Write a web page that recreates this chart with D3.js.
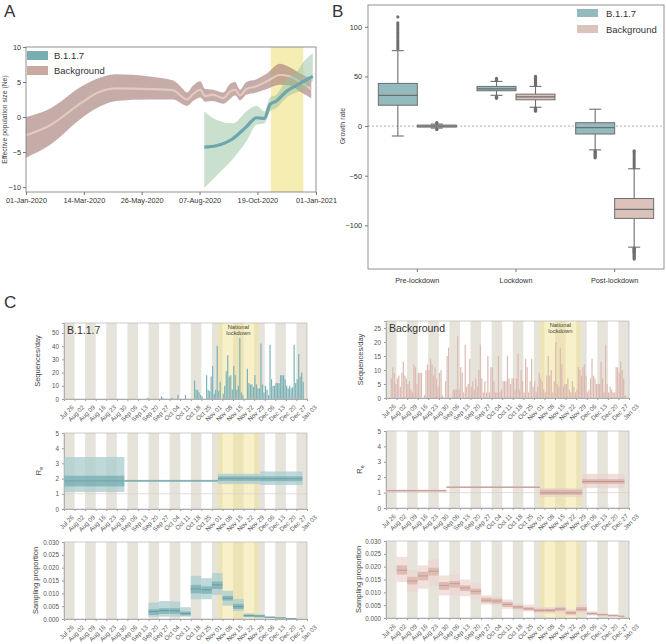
<!DOCTYPE html>
<html><head><meta charset="utf-8">
<script src="https://cdn.jsdelivr.net/npm/d3@7"></script>
<style>body{margin:0;background:#fff} svg{font-family:"Liberation Sans",Arial,sans-serif}</style>
</head><body><svg id="c" width="666" height="644"></svg>
<script>
// ---------------- Panel A data ----------------
const bgDates = ["2020-01-01","2020-01-31","2020-03-13","2020-04-03","2020-04-24","2020-06-05","2020-07-05","2020-07-17","2020-07-22","2020-07-30","2020-08-08","2020-08-14","2020-08-24","2020-09-06","2020-09-14","2020-09-21","2020-09-27","2020-10-05","2020-10-18","2020-10-31","2020-11-16","2020-11-29","2020-12-12","2020-12-26"];
const bgMean = [-2.6,-1.2,2.2,3.6,4.1,4.0,3.8,2.8,2.5,3.3,3.9,3.0,3.2,2.7,3.6,3.9,3.1,4.0,4.4,5.1,6.0,5.8,5.0,4.0];
const bgLow  = [-5.8,-4.0,0.0,1.5,2.3,2.5,2.5,1.8,1.6,2.3,2.8,2.2,2.3,1.9,2.5,3.1,2.4,3.2,3.5,4.0,4.6,4.5,3.6,2.7];
const bgHigh = [0.0,1.2,4.5,5.6,6.1,5.8,5.2,4.0,3.5,4.5,5.1,4.0,3.9,3.5,4.7,5.0,3.9,5.0,5.4,6.2,7.6,7.1,6.2,5.5];
const b117Dates = ["2020-08-13","2020-08-28","2020-09-18","2020-10-05","2020-10-18","2020-10-28","2020-11-04","2020-11-12","2020-11-25","2020-12-07","2020-12-18","2020-12-28"];
const b117Mean = [-4.3,-4.1,-3.1,-1.4,-0.1,-0.2,1.8,2.3,3.7,4.5,5.2,5.8];
const b117Low  = [-10.1,-8.4,-6.0,-3.5,-1.1,-0.9,0.8,1.3,2.8,3.5,4.0,5.2];
const b117High = [0.8,-0.4,-0.9,0.8,1.6,0.8,2.8,3.2,5.4,6.4,8.1,9.1];
const lockA = ["2020-11-05","2020-12-16"];
const aXTicks = ["2020-01-01","2020-03-14","2020-05-26","2020-08-07","2020-10-19","2021-01-01"];
const aYTicks = [-10,-5,0,5,10];

// ---------------- Panel B data ----------------
const periods = ["Pre-lockdown","Lockdown","Post-lockdown"];
const b117Q1 = [21,35.6,-8], b117Med = [31,37.5,-1.5], b117Q3 = [43,40,3.4], b117WLo = [-10,31,-24], b117WHi = [76,45,17];
const bgQ1 = [-1,26.5,-93], bgMed = [0,29.5,-84], bgQ3 = [1,32.2,-73], bgWLo = [-2,19,-122], bgWHi = [2,40,-43];
const b117Out = [[78,80,82,84,86,88,90,92,94,96,98,100,102,104,110],[28,29,30,46,47,48],[-25,-26,-27,-28,-29,-30,-31,-32]];
const bgOut = [[-3.5,-3,3,3.5],[15,16,17,18,41,42,43,44,45,46,47,48,49,50],[-25,-26,-28,-30,-32,-34,-36,-38,-40,-42,-123,-124,-125,-126,-127,-128,-129,-130,-131,-132,-133,-134]];
const bYTicks = [-100,-50,0,50,100];

// ---------------- Panel C data ----------------
const cTickLabels = ["Jul 26","Aug 02","Aug 09","Aug 16","Aug 23","Aug 30","Sep 06","Sep 13","Sep 20","Sep 27","Oct 04","Oct 11","Oct 18","Oct 25","Nov 01","Nov 08","Nov 15","Nov 22","Nov 29","Dec 06","Dec 13","Dec 20","Dec 27","Jan 03"];
const cTickDates = ["2020-07-26","2020-08-02","2020-08-09","2020-08-16","2020-08-23","2020-08-30","2020-09-06","2020-09-13","2020-09-20","2020-09-27","2020-10-04","2020-10-11","2020-10-18","2020-10-25","2020-11-01","2020-11-08","2020-11-15","2020-11-22","2020-11-29","2020-12-06","2020-12-13","2020-12-20","2020-12-27","2021-01-03"];
const lockC = ["2020-11-05","2020-12-02"];
const dailyStart = "2020-07-26";
// B.1.1.7 sequences/day from Jul 26
const b117Daily = [0,0,0,0,0,0,0,0,0,0, 0,0,0,0,0,0,0,0,0,0, 0,0,0,0,0,0,0,0,0,0, 0,0,0,0,0,0,0,0,0,0, 0,0,0,0,0,0,0,0,0,0, 0,0,0,0,0,1,0,0,0,0,
 0,0,0,0,2,1,0,0,0,0, 0,1,0,0,0,3,0,0,0,0, 3,0,0,0,0,0,14,7,7,5, 3,2,0,0,18,7,6,17,25,4, 7,40,6,13,0,4,10,21,33,17,
 18,7,25,18,7,10,46,5,3,0, 0,23,12,11,11,9,18,11,8,8, 42,11,5,10,7,3,41,15,10,10, 12,12,12,18,18,18,15,10,8,10, 8,9,41,12,15,34,17,20,13];
// Background sequences/day from Jul 26
const bgDaily = [0,0,0,7,11,9,5,7,8,4,9,13,8,7,5,6,3,2,12,11,5,9,9,9,0,1,10,12,10,14,12,8,11,7,4,9,10,1,0,6,15,18,0,0,3,3,3,22,3,11,9,2,19,4,5,14,4,6,3,7,4,10,19,7,2,6,2,15,2,11,11,6,2,2,15,2,3,6,6,6,15,7,5,7,7,3,7,16,3,10,6,2,14,11,2,6,14,4,6,2,4,9,7,6,3,2,8,15,8,10,2,6,20,5,4,18,12,4,5,5,7,3,2,6,4,2,3,11,10,8,11,12,8,2,3,7,14,8,7,5,5,5,13,7,2,19,5,2,4,3,2,2,11,11,9,13,10,7,1];
// Re segments
const reStart = ["2020-07-26","2020-09-04","2020-11-05","2020-12-03"];
const reEnd   = ["2020-09-04","2020-11-05","2020-12-03","2020-12-31"];
const b117ReLo95 = [1.12,1.79,1.64,1.58], b117ReLo50 = [1.49,1.82,1.85,1.83], b117ReMed = [1.85,1.85,2.0,1.99], b117ReHi50 = [2.19,1.88,2.15,2.15], b117ReHi95 = [3.42,1.92,2.32,2.47];
const bgReLo95 = [1.06,1.30,0.71,1.29], bgReLo50 = [1.09,1.32,0.86,1.57], bgReMed = [1.12,1.35,0.98,1.72], bgReHi50 = [1.15,1.38,1.19,1.87], bgReHi95 = [1.2,1.41,1.29,2.22];
// Sampling proportion weekly segments
const b117SpStart = ["2020-09-20","2020-09-27","2020-10-04","2020-10-11","2020-10-18","2020-10-25","2020-11-01","2020-11-08","2020-11-15","2020-11-22","2020-11-29","2020-12-06","2020-12-13","2020-12-20"];
const b117SpEnd   = ["2020-09-27","2020-10-04","2020-10-11","2020-10-18","2020-10-25","2020-11-01","2020-11-08","2020-11-15","2020-11-22","2020-11-29","2020-12-06","2020-12-13","2020-12-20","2020-12-27"];
const b117SpHi95 = [0.0064,0.0070,0.0068,0.0046,0.0168,0.0159,0.0179,0.0110,0.0078,0.0022,0.0018,0.0010,0.0007,0.0004];
const b117SpHi50 = [0.0038,0.0042,0.0042,0.0029,0.0133,0.0127,0.0146,0.0090,0.0059,0.0017,0.0014,0.0008,0.0005,0.0003];
const b117SpMed  = [0.0029,0.0033,0.0032,0.0021,0.0117,0.0114,0.0133,0.0081,0.0048,0.0013,0.0012,0.0007,0.0004,0.0002];
const b117SpLo50 = [0.0016,0.0020,0.0020,0.0014,0.0100,0.0098,0.0117,0.0072,0.0039,0.0009,0.0008,0.0005,0.0003,0.0001];
const b117SpLo95 = [0.0009,0.0009,0.0009,0.0009,0.0077,0.0077,0.0094,0.0052,0.0031,0.0007,0.0005,0.0003,0.0001,0.0000];
const bgSpStart = ["2020-08-02","2020-08-09","2020-08-16","2020-08-23","2020-08-30","2020-09-06","2020-09-13","2020-09-20","2020-09-27","2020-10-04","2020-10-11","2020-10-18","2020-10-25","2020-11-01","2020-11-08","2020-11-15","2020-11-22","2020-11-29","2020-12-06","2020-12-13","2020-12-20","2020-12-27"];
const bgSpEnd   = ["2020-08-09","2020-08-16","2020-08-23","2020-08-30","2020-09-06","2020-09-13","2020-09-20","2020-09-27","2020-10-04","2020-10-11","2020-10-18","2020-10-25","2020-11-01","2020-11-08","2020-11-15","2020-11-22","2020-11-29","2020-12-06","2020-12-13","2020-12-20","2020-12-27","2020-12-31"];
const bgSpHi95 = [.0238,.0186,.0205,.0228,.0166,.0169,.0150,.0134,.0088,.0085,.0072,.0056,.0052,.0043,.0043,.0049,.0033,.0053,.0026,.0020,.0015,.0010];
const bgSpHi50 = [.0205,.0160,.0180,.0196,.0140,.0144,.0127,.0114,.0079,.0075,.0062,.0049,.0042,.0036,.0036,.0041,.0026,.0043,.0021,.0016,.0012,.0008];
const bgSpMed  = [.0186,.0144,.0164,.0182,.0127,.0134,.0117,.0104,.0069,.0066,.0053,.0043,.0036,.0030,.0030,.0035,.0020,.0034,.0017,.0013,.0009,.0007];
const bgSpLo50 = [.0169,.0131,.0147,.0166,.0110,.0118,.0105,.0092,.0060,.0056,.0043,.0036,.0030,.0023,.0024,.0028,.0014,.0026,.0013,.0010,.0007,.0005];
const bgSpLo95 = [.0140,.0101,.0114,.0127,.0088,.0088,.0085,.0075,.0052,.0049,.0036,.0030,.0026,.0017,.0017,.0020,.0009,.0017,.0010,.0007,.0004,.0003];

// ---------------- drawing ----------------
const P = d3.timeParse("%Y-%m-%d");
const svg = d3.select("#c");
const axisCol = "#777";

// panel letters
[["A",4,17],["B",332,17],["C",4,308]].forEach(([t,x,y]) =>
  svg.append("text").attr("x",x).attr("y",y).attr("font-size",17).attr("fill","#333").text(t));

// ===== Panel A =====
(function(){
  const L=26,R=316,T=47,B=192;
  const x = d3.scaleTime().domain([P("2020-01-01"),P("2021-01-01")]).range([L,R]);
  const y = d3.scaleLinear().domain([-10.7,10]).range([B,T]);
  const g = svg.append("g");
  g.append("rect").attr("x",x(P(lockA[0]))).attr("y",T).attr("width",x(P(lockA[1]))-x(P(lockA[0]))).attr("height",B-T).attr("fill","#f6edb3");
  const bg = bgDates.map((d,i)=>({d:P(d),m:bgMean[i],lo:bgLow[i],hi:bgHigh[i]}));
  const bb = b117Dates.map((d,i)=>({d:P(d),m:b117Mean[i],lo:b117Low[i],hi:b117High[i]}));
  const area = d3.area().x(d=>x(d.d)).y0(d=>y(d.lo)).y1(d=>y(d.hi)).curve(d3.curveMonotoneX);
  const line = d3.line().x(d=>x(d.d)).y(d=>y(d.m)).curve(d3.curveMonotoneX);
  g.append("path").attr("d",area(bg)).attr("fill","#a8807a").attr("fill-opacity",0.65);
  g.append("path").attr("d",line(bg)).attr("fill","none").attr("stroke","#e3c9be").attr("stroke-width",2.2);
  g.append("path").attr("d",area(bb)).attr("fill","#94c19f").attr("fill-opacity",0.5);
  g.append("path").attr("d",line(bb)).attr("fill","none").attr("stroke","#6fa6ad").attr("stroke-width",3.2);
  g.append("rect").attr("x",L).attr("y",T).attr("width",R-L).attr("height",B-T).attr("fill","none").attr("stroke",axisCol).attr("stroke-width",0.8);
  const ax = g.append("g").attr("transform",`translate(0,${B})`).call(d3.axisBottom(x).tickValues(aXTicks.map(P)).tickFormat(d3.timeFormat("%d-%b-%Y")).tickSize(3));
  const ay = g.append("g").attr("transform",`translate(${L},0)`).call(d3.axisLeft(y).tickValues(aYTicks).tickSize(3));
  [ax,ay].forEach(a=>{a.select(".domain").remove();a.selectAll("line").attr("stroke",axisCol);a.selectAll("text").attr("font-size",7.3).attr("fill","#333").attr("font-family","Liberation Sans, Arial");});
  ay.selectAll("text").attr("dx",1);
  g.append("text").attr("transform",`translate(7,${(T+B)/2}) rotate(-90)`).attr("text-anchor","middle").attr("font-size",6.8).attr("fill","#444").text("Effective population size (Ne)");
  const leg=[["B.1.1.7","#7aadb1"],["Background","#c9aaa1"]];
  leg.forEach(([t,c],i)=>{
    g.append("rect").attr("x",27).attr("y",51+i*15).attr("width",21).attr("height",9).attr("fill",c);
    g.append("text").attr("x",54).attr("y",59+i*15).attr("font-size",9.5).attr("fill","#333").text(t);
  });
})();

// ===== Panel B =====
(function(){
  const L=368,R=664,T=5,B=269;
  const x = d3.scaleBand().domain(periods).range([L,R]);
  const y = d3.scaleLinear().domain([-144,122]).range([B,T]);
  const g = svg.append("g");
  g.append("line").attr("x1",L).attr("x2",R).attr("y1",y(0)).attr("y2",y(0)).attr("stroke","#999").attr("stroke-dasharray","2,2").attr("stroke-width",0.8);
  const bw = 39, cap = 12;
  const series = [
    {q1:b117Q1,med:b117Med,q3:b117Q3,lo:b117WLo,hi:b117WHi,out:b117Out,fill:"#93babd",off:-bw},
    {q1:bgQ1,med:bgMed,q3:bgQ3,lo:bgWLo,hi:bgWHi,out:bgOut,fill:"#dbc3bb",off:0}
  ];
  const sc="#6e6e6e";
  series.forEach(s=>{
    periods.forEach((p,i)=>{
      const cx = x(p)+x.bandwidth()/2 + s.off + bw/2;
      g.append("line").attr("x1",cx).attr("x2",cx).attr("y1",y(s.hi[i])).attr("y2",y(s.q3[i])).attr("stroke",sc).attr("stroke-width",1.1);
      g.append("line").attr("x1",cx).attr("x2",cx).attr("y1",y(s.q1[i])).attr("y2",y(s.lo[i])).attr("stroke",sc).attr("stroke-width",1.1);
      [s.hi[i],s.lo[i]].forEach(v=>g.append("line").attr("x1",cx-cap/2).attr("x2",cx+cap/2).attr("y1",y(v)).attr("y2",y(v)).attr("stroke",sc).attr("stroke-width",1.1));
      s.out[i].forEach(v=>g.append("circle").attr("cx",cx).attr("cy",y(v)).attr("r",1.6).attr("fill",sc));
      g.append("rect").attr("x",cx-bw/2).attr("y",y(s.q3[i])).attr("width",bw).attr("height",Math.max(1.5,y(s.q1[i])-y(s.q3[i]))).attr("fill",s.fill).attr("stroke",sc).attr("stroke-width",1);
      g.append("line").attr("x1",cx-bw/2).attr("x2",cx+bw/2).attr("y1",y(s.med[i])).attr("y2",y(s.med[i])).attr("stroke",sc).attr("stroke-width",1.2);
    });
  });
  g.append("rect").attr("x",L).attr("y",T).attr("width",R-L).attr("height",B-T).attr("fill","none").attr("stroke","#888").attr("stroke-width",0.9);
  const ax = g.append("g").attr("transform",`translate(0,${B})`).call(d3.axisBottom(x).tickSize(3));
  const ay = g.append("g").attr("transform",`translate(${L},0)`).call(d3.axisLeft(y).tickValues(bYTicks).tickSize(3));
  [ax,ay].forEach(a=>{a.select(".domain").remove();a.selectAll("line").attr("stroke",axisCol);a.selectAll("text").attr("font-size",7.3).attr("fill","#333").attr("font-family","Liberation Sans, Arial");});
  ax.selectAll("text").attr("dy","1.1em");
  g.append("text").attr("transform",`translate(345,${y(0)}) rotate(-90)`).attr("text-anchor","middle").attr("font-size",7).attr("fill","#444").text("Growth rate");
  const leg=[["B.1.1.7","#93babd"],["Background","#dbc3bb"]];
  leg.forEach(([t,c],i)=>{
    g.append("rect").attr("x",577).attr("y",9+i*16).attr("width",21).attr("height",8).attr("fill",c);
    g.append("text").attr("x",606).attr("y",17+i*16).attr("font-size",9.5).attr("fill","#333").text(t);
  });
})();

// ===== Panel C =====
function cFrame(L,R,T,B,ydom,yticks,yfmt,ylabel,labelX,sub){
  const g = svg.append("g");
  const x = d3.scaleTime().domain([P("2020-07-26"),P("2021-01-03")]).range([L,R]);
  const y = d3.scaleLinear().domain(ydom).range([B,T]);
  const td = cTickDates.map(P);
  for(let i=0;i<td.length-1;i+=2){
    g.append("rect").attr("x",x(td[i])).attr("y",T).attr("width",x(td[i+1])-x(td[i])).attr("height",B-T).attr("fill","#e5e3da");
  }
  g.append("rect").attr("x",x(P(lockC[0]))).attr("y",T).attr("width",x(P(lockC[1]))-x(P(lockC[0]))).attr("height",B-T).attr("fill","#f3e49a").attr("fill-opacity",0.55);
  const ax = g.append("g").attr("transform",`translate(0,${B})`).call(d3.axisBottom(x).tickValues(td).tickFormat((d,i)=>cTickLabels[i]).tickSize(2));
  ax.selectAll("text").attr("text-anchor","end").attr("transform","translate(4,3) rotate(-45)").attr("dy","0.5em");
  const ay = g.append("g").attr("transform",`translate(${L},0)`).call(d3.axisLeft(y).tickValues(yticks).tickFormat(yfmt).tickSize(2));
  [ax,ay].forEach(a=>{a.select(".domain").attr("stroke","#aaa");a.selectAll("line").attr("stroke","#999");a.selectAll("text").attr("font-size",6.3).attr("fill","#555").attr("font-family","Liberation Sans, Arial");});
  const yl = g.append("text").attr("transform",`translate(${labelX},${(T+B)/2}) rotate(-90)`).attr("text-anchor","middle").attr("font-size",7.5).attr("fill","#444").text(ylabel);
  if(sub){ yl.append("tspan").attr("font-size",5.5).attr("dy",2).text(sub); }
  return {g,x,y,L,R,T,B};
}
function frameBorder(f){
  f.g.append("rect").attr("x",f.L).attr("y",f.T).attr("width",f.R-f.L).attr("height",f.B-f.T).attr("fill","none").attr("stroke","#b8b8b8").attr("stroke-width",0.7);
}
function barsPanel(L,R,T,B,ymax,yticks,data,col,title,labelX){
  const f = cFrame(L,R,T,B,[0,ymax],yticks,d3.format("d"),"Sequences/day",labelX);
  const s = P(dailyStart);
  data.forEach((v,i)=>{
    if(v<=0) return;
    const d = d3.timeDay.offset(s,i);
    f.g.append("rect").attr("x",f.x(d)+0.15).attr("y",f.y(v)).attr("width",1.2).attr("height",f.y(0)-f.y(v)).attr("fill",col);
  });
  frameBorder(f);
  f.g.append("text").attr("x",L+3).attr("y",T+11).attr("font-size",10.5).attr("fill","#333").text(title);
  const cx = (f.x(P(lockC[0]))+f.x(P(lockC[1])))/2;
  f.g.append("text").attr("x",cx).attr("y",T+6).attr("text-anchor","middle").attr("font-size",5.8).attr("fill","#444").text("National");
  f.g.append("text").attr("x",cx).attr("y",T+12).attr("text-anchor","middle").attr("font-size",5.8).attr("fill","#444").text("lockdown");
}
function rePanel(L,R,T,B,lo95,lo50,med,hi50,hi95,cOut,cIn,cMed,labelX){
  const f = cFrame(L,R,T,B,[0,5],[0,1,2,3,4,5],d3.format("d"),"R",labelX,"e");
  f.g.append("line").attr("x1",L).attr("x2",R).attr("y1",f.y(1)).attr("y2",f.y(1)).attr("stroke","#d9cfcf").attr("stroke-width",0.7);
  reStart.forEach((s,i)=>{
    const x0=f.x(P(s)), x1=f.x(P(reEnd[i]));
    f.g.append("rect").attr("x",x0).attr("width",x1-x0).attr("y",f.y(hi95[i])).attr("height",f.y(lo95[i])-f.y(hi95[i])).attr("fill",cOut).attr("fill-opacity",0.75);
    f.g.append("rect").attr("x",x0).attr("width",x1-x0).attr("y",f.y(hi50[i])).attr("height",f.y(lo50[i])-f.y(hi50[i])).attr("fill",cIn).attr("fill-opacity",0.8);
    f.g.append("line").attr("x1",x0).attr("x2",x1).attr("y1",f.y(med[i])).attr("y2",f.y(med[i])).attr("stroke",cMed).attr("stroke-width",0.8);
  });
  frameBorder(f);
}
function spPanel(L,R,T,B,st,en,lo95,lo50,med,hi50,hi95,cOut,cIn,cMed,labelX){
  const f = cFrame(L,R,T,B,[0,0.03],[0,0.005,0.01,0.015,0.02,0.025,0.03],d3.format(".3f"),"Sampling proportion",labelX);
  st.forEach((s,i)=>{
    const x0=f.x(P(s)), x1=f.x(P(en[i]));
    f.g.append("rect").attr("x",x0).attr("width",x1-x0).attr("y",f.y(hi95[i])).attr("height",f.y(lo95[i])-f.y(hi95[i])).attr("fill",cOut).attr("fill-opacity",0.75);
    f.g.append("rect").attr("x",x0).attr("width",x1-x0).attr("y",f.y(hi50[i])).attr("height",f.y(lo50[i])-f.y(hi50[i])).attr("fill",cIn).attr("fill-opacity",0.8);
    f.g.append("line").attr("x1",x0).attr("x2",x1).attr("y1",f.y(med[i])).attr("y2",f.y(med[i])).attr("stroke",cMed).attr("stroke-width",0.8);
  });
  frameBorder(f);
}
// left column (B.1.1.7)
barsPanel(64,307,323,399,57.5,[0,10,20,30,40,50],b117Daily,"#7db2b7","B.1.1.7",40);
rePanel(64,307,433,509,b117ReLo95,b117ReLo50,b117ReMed,b117ReHi50,b117ReHi95,"#a9cccf","#7cb0b5","#6a9fa5",41);
spPanel(64,307,542,619,b117SpStart,b117SpEnd,b117SpLo95,b117SpLo50,b117SpMed,b117SpHi50,b117SpHi95,"#a9cccf","#7cb0b5","#5e969c",38);
// right column (Background)
barsPanel(386,629,321,398,27.5,[0,5,10,15,20,25],bgDaily,"#dcbab2","Background",363);
rePanel(386,629,431,508,bgReLo95,bgReLo50,bgReMed,bgReHi50,bgReHi95,"#ead3cd","#d7b0a8","#b98d85",362);
spPanel(386,629,541,618,bgSpStart,bgSpEnd,bgSpLo95,bgSpLo50,bgSpMed,bgSpHi50,bgSpHi95,"#ecd6d0","#d9b3ab","#c0948c",361);
</script></body></html>
